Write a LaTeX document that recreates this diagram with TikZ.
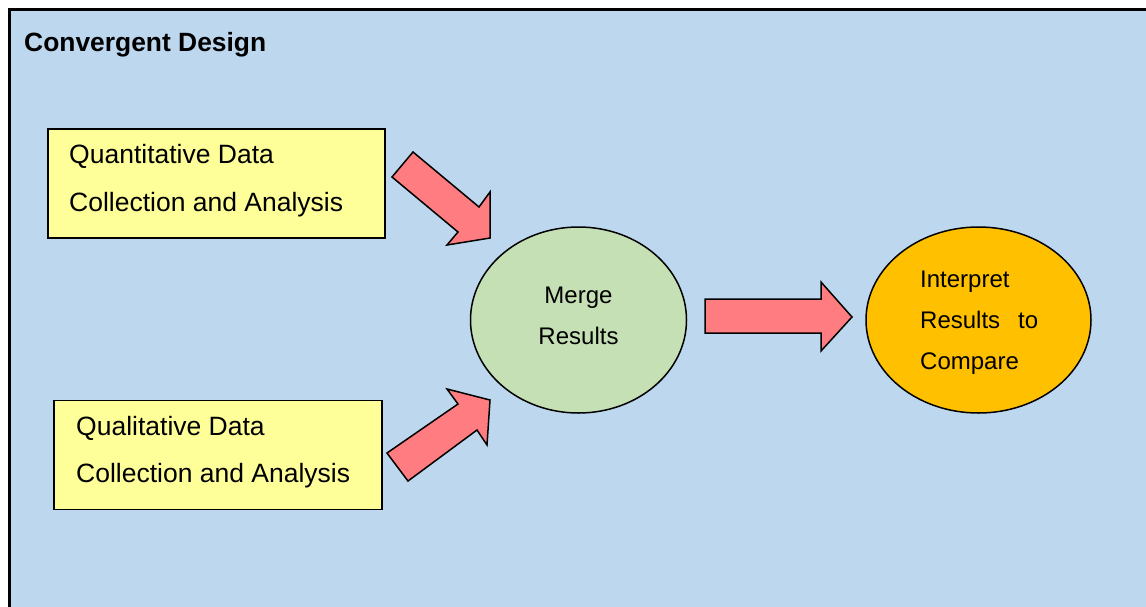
\documentclass[tikz,border=0pt]{standalone}
\usepackage{fontspec}
\setmainfont{Liberation Sans}
\usetikzlibrary{shapes.geometric}
\definecolor{panel}{HTML}{BDD7EE}
\definecolor{boxyellow}{HTML}{FFFF99}
\definecolor{mergegreen}{HTML}{C5E0B4}
\definecolor{interporange}{HTML}{FFC000}
\definecolor{arrowpink}{HTML}{FF7C80}
\tikzset{
  databox/.style={draw=black, line width=1.5pt, fill=boxyellow, rectangle, inner sep=0pt},
  oval/.style={draw=black, line width=1.5pt, ellipse, inner sep=0pt},
  blockarrow/.style={draw=black, line width=1.5pt, fill=arrowpink, line join=miter},
  boxtext/.style={anchor=base west, inner sep=0pt, font=\fontsize{26.5}{31}\selectfont},
  ovaltext/.style={anchor=base west, inner sep=0pt, font=\fontsize{24}{29}\selectfont},
  titletext/.style={anchor=base west, inner sep=0pt, font=\fontsize{26.4}{31}\selectfont\bfseries},
}
\begin{document}
\begin{tikzpicture}[x=1pt, y=-1pt]
  \useasboundingbox (0,0) rectangle (1146,606);
  \clip (0,0) rectangle (1146,606);

  % panel with frame on its left and top edges
  \fill[panel] (9.5,9.5) rectangle (1150,610);
  \draw[line width=2.6pt] (9.5,612) -- (9.5,9.5) -- (1150,9.5);

  \node[titletext] (title) at (24,51.5) {Convergent Design};

  % data collection boxes
  \node[databox, minimum width=337pt, minimum height=109pt] (quant) at (216.5,183.5) {};
  \node[boxtext] (quant1) at (69,163) {Quantitative Data};
  \node[boxtext] (quant2) at (69,211) {Collection and Analysis};

  \node[databox, minimum width=328pt, minimum height=109pt] (qual) at (218,455) {};
  \node[boxtext] (qual1) at (76,435) {Qualitative Data};
  \node[boxtext] (qual2) at (76,482) {Collection and Analysis};

  % merge and interpretation ovals
  \node[oval, fill=mergegreen, minimum width=216pt, minimum height=186pt] (merge) at (578.5,320) {};
  \node[ovaltext, anchor=base] (merge1) at (578.5,303) {Merge};
  \node[ovaltext, anchor=base] (merge2) at (578.5,344) {Results};

  \node[oval, fill=interporange, minimum width=225pt, minimum height=186pt] (interp) at (978.5,320) {};
  \node[ovaltext] (interp1) at (920,287) {Interpret};
  \node[ovaltext] (interp2) at (920,328) {Results};
  \node[ovaltext] (interp3) at (1018,328) {to};
  \node[ovaltext] (interp4) at (920,369) {Compare};

  % block arrows
  \draw[blockarrow] (392,177) -- (413,152) -- (479,207) -- (490,192) -- (490,238)
    -- (447,245) -- (458,232) -- cycle;
  \draw[blockarrow] (387,453) -- (458,404) -- (447,389) -- (490,400) -- (487,445)
    -- (477,430) -- (408,481) -- cycle;
  \draw[blockarrow] (705,299) -- (821,299) -- (821,282) -- (852,317) -- (821,351)
    -- (821,333) -- (705,333) -- cycle;
\end{tikzpicture}
\end{document}
